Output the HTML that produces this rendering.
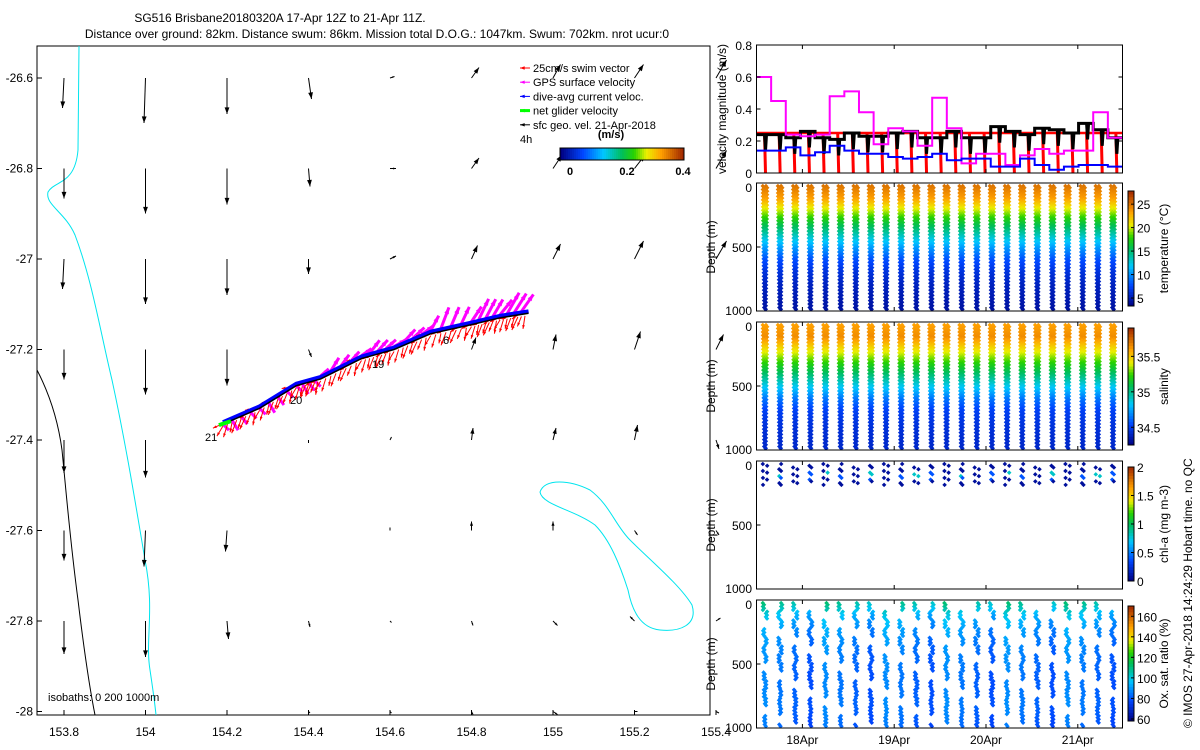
<!DOCTYPE html>
<html><head><meta charset="utf-8"><style>
body{margin:0;background:#fff;}
svg{display:block;font-family:"Liberation Sans",sans-serif;}
</style></head><body>
<svg id="fig" width="1200" height="750" viewBox="0 0 1200 750" xmlns="http://www.w3.org/2000/svg">
<rect width="1200" height="750" fill="#fff"/>
<text x="280" y="22" font-size="12" text-anchor="middle">SG516 Brisbane20180320A 17-Apr 12Z to 21-Apr 11Z.</text>
<text x="377" y="38" font-size="12" text-anchor="middle">Distance over ground: 82km. Distance swum: 86km. Mission total D.O.G.: 1047km. Swum: 702km. nrot ucur:0</text>
<g id="map"></g>
<g id="right"></g>
<text transform="translate(1192,728) rotate(-90)" font-size="12">© IMOS 27-Apr-2018 14:24:29 Hobart time. no QC</text>
</svg>
<script>
// ---------- data ----------
const lonTicks=[153.8,154,154.2,154.4,154.6,154.8,155,155.2,155.4];
const latTicks=[-26.6,-26.8,-27,-27.2,-27.4,-27.6,-27.8,-28];
const geoU=[
[-0.01,-0.01,0,0.02,0.03,0.05,0.05,0.06,0.07],
[0,0,0,0.01,0.04,0.05,0.06,0.07,0.07],
[-0.01,0,0,0,0.04,0.04,0.05,0.06,0.07],
[0,0,0,0.02,0.01,0.03,0.02,0.04,0.05],
[0,0,0,0,0.01,0.01,0.02,0.02,0.02],
[0,-0.01,-0.01,0,0,0,0,0.02,0.02],
[0,0,0.01,0.01,0.01,0.01,0.03,-0.03,0.03],
[0,0,0,0.01,0.01,0.01,0.03,0.02,0.02]];
const geoV=[
[-0.2,-0.3,-0.24,-0.14,0.01,0.07,0.09,0.09,0.12],
[-0.2,-0.3,-0.24,-0.12,0,0.07,0.09,0.09,0.12],
[-0.2,-0.3,-0.24,-0.1,0.02,0.09,0.1,0.12,0.12],
[-0.2,-0.3,-0.24,-0.05,0,0.08,0.1,0.12,0.1],
[-0.22,-0.25,0,-0.02,0.02,0.08,0.08,0.1,-0.06],
[-0.2,-0.24,-0.14,0,0.02,0.06,0.06,-0.03,-0.03],
[-0.22,-0.24,-0.12,-0.04,-0.01,-0.03,-0.03,0.03,0.02],
[0,0,-0.02,-0.01,-0.01,-0.02,-0.02,0,-0.01]];
const trackLon=[154.19,154.28,154.37,154.43,154.53,154.61,154.7,154.8,154.87,154.94];
const trackLat=[-27.365,-27.33,-27.28,-27.265,-27.22,-27.2,-27.165,-27.145,-27.13,-27.12];
const dayLabels=["18Apr","19Apr","20Apr","21Apr"];
const dayVals=[0.5,1.5,2.5,3.5];
const gpsVel=[0.6,0.45,0.24,0.23,0.24,0.48,0.51,0.38,0.18,0.28,0.26,0.17,0.47,0.28,0.06,0.12,0.12,0.05,0.11,0.15,0.12,0.14,0.14,0.38,0.22];
const daVel=[0.14,0.14,0.16,0.11,0.13,0.17,0.14,0.12,0.12,0.10,0.09,0.10,0.12,0.08,0.09,0.09,0.04,0.04,0.09,0.05,0.02,0.04,0.05,0.05,0.04];
const netVel=[0.24,0.24,0.22,0.26,0.22,0.21,0.25,0.23,0.23,0.25,0.26,0.22,0.22,0.26,0.22,0.22,0.29,0.26,0.24,0.28,0.27,0.25,0.31,0.27,0.22];
const swimVel=0.25;
const profDepth=[0,100,200,300,400,500,600,700,800,900,1000];
const profTemp=[25,23.5,20,16.5,13.5,10.5,8,6.5,5.5,5,4.5];
const profSal=[35.6,35.65,35.45,35.25,35.05,34.85,34.65,34.52,34.47,34.44,34.42];
const profOxy=[112,100,95,92,90,89,88,88,89,88,86];
const nDives=24;
// ---------- helpers ----------
const NS="http://www.w3.org/2000/svg";
function el(p,t,a){const e=document.createElementNS(NS,t);for(const k in a)e.setAttribute(k,a[k]);p.appendChild(e);return e;}
function clamp(v){return Math.max(0,Math.min(1,v));}
const cmS=[0,0.18,0.35,0.5,0.6,0.7,0.82,1];
const cmC=[[0,0,128],[0,70,255],[0,200,255],[0,190,90],[40,210,0],[235,240,0],[255,160,0],[160,40,0]];
function jet(t){t=clamp(t);let i=0;while(i<cmS.length-2&&t>cmS[i+1])i++;const f=(t-cmS[i])/(cmS[i+1]-cmS[i]);const c=cmC[i].map((v,j)=>Math.round(v+f*(cmC[i+1][j]-v)));return `rgb(${c[0]},${c[1]},${c[2]})`;}
function interp(xs,ys,x){for(let i=0;i<xs.length-1;i++){if(x<=xs[i+1]){const f=(x-xs[i])/(xs[i+1]-xs[i]);return ys[i]+f*(ys[i+1]-ys[i]);}}return ys[ys.length-1];}
function arrow(g,x1,y1,x2,y2,col,w,hs){el(g,'line',{x1,y1,x2,y2,stroke:col,'stroke-width':w});const a=Math.atan2(y2-y1,x2-x1),L=Math.hypot(x2-x1,y2-y1);if(L<1)return;const h=Math.min(hs,L*0.5);el(g,'polygon',{points:`${x2},${y2} ${x2-h*Math.cos(a-0.35)},${y2-h*Math.sin(a-0.35)} ${x2-h*Math.cos(a+0.35)},${y2-h*Math.sin(a+0.35)}`,fill:col});}
// ---------- map ----------
const map=document.getElementById('map');
const MX=lon=>64+(lon-153.8)*407.5, MY=lat=>78+(-26.6-lat)*452.5;
el(map,'rect',{x:37,y:46,width:673,height:669,fill:'none',stroke:'#000','stroke-width':1});
lonTicks.forEach(v=>{const x=MX(v);el(map,'line',{x1:x,y1:715,x2:x,y2:710,stroke:'#000'});const t=el(map,'text',{x,y:736,'font-size':12,'text-anchor':'middle'});t.textContent=String(v);});
latTicks.forEach(v=>{const y=MY(v);el(map,'line',{x1:37,y1:y,x2:42,y2:y,stroke:'#000'});const t=el(map,'text',{x:33,y:y+4,'font-size':12,'text-anchor':'end'});t.textContent=String(v);});
const coast=el(map,'path',{d:'M37,370 C50,395 58,420 62,450 C66,490 70,540 78,600 C84,650 90,690 95,715',fill:'none',stroke:'#000','stroke-width':1});

const iso=el(map,'path',{d:'M79,46 L78,150 C75,185 55,180 48,192 C45,205 65,212 75,235 C92,280 100,330 112,380 C125,440 135,500 145,560 C155,610 145,640 150,670 C153,690 155,705 156,715',fill:'none',stroke:'#00e5ee','stroke-width':1});

const isl=el(map,'path',{d:'M540,492 C545,478 570,480 590,490 C610,505 615,525 630,540 C650,560 680,585 692,605 C698,625 680,632 660,630 C640,628 632,610 628,590 C620,565 610,540 595,525 C575,510 542,505 540,492Z',fill:'none',stroke:'#00e5ee','stroke-width':1});

const ag=el(map,'g',{});
latTicks.forEach((la,i)=>lonTicks.forEach((lo,j)=>{const x=MX(lo),y=MY(la);arrow(ag,x,y,x+geoU[i][j]*150,y-geoV[i][j]*150,'#000',1,7);}));
const tg=el(map,'g',{});
const tp=trackLon.map((lo,i)=>[MX(lo),MY(trackLat[i])]);
for(let i=0;i<tp.length-1;i++){const [x1,y1]=tp[i],[x2,y2]=tp[i+1];for(let k=0;k<8;k++){const f=k/8,x=x1+(x2-x1)*f,y=y1+(y2-y1)*f;arrow(tg,x,y+2,x-6+((k*7)%5),y+12+((k*3)%6),'#f00',1,4);arrow(tg,x+3,y-2,x-10+((k*5)%7),y+4-((k*2)%5),'#f00',1,4);if(i>2&&k%2==0){arrow(tg,x,y-3,x+8+(i%3)*2,y-10-((k*3)%8)-(i>5?8:0),'#f0f',3,7);}else if(i<=2&&k%2==0){arrow(tg,x,y,x+6,y+6+(k%3)*2,'#f0f',3,5);}}}
el(tg,'polyline',{points:tp.map(p=>p.join(',')).join(' '),fill:'none',stroke:'#00f','stroke-width':4,transform:'translate(0,-2)'});
el(tg,'polyline',{points:tp.map(p=>p.join(',')).join(' '),fill:'none',stroke:'#000','stroke-width':1.5});
el(tg,'line',{x1:tp[0][0]-4,y1:tp[0][1]+1,x2:tp[0][0]+8,y2:tp[0][1]-3,stroke:'#0f0','stroke-width':4});
[["21",205,441],["20",290,404],["19",372,368],["6",443,344]].forEach(a=>{const t=el(map,'text',{x:a[1],y:a[2],'font-size':11});t.textContent=a[0];});
const lg=el(map,'g',{});
[["25cm/s swim vector",'#f00'],["GPS surface velocity",'#f0f'],["dive-avg current veloc.",'#00f'],["net glider velocity",'#0f0'],["sfc geo. vel. 21-Apr-2018",'#000']].forEach((e,i)=>{const y=68+i*14.2;arrow(lg,530,y,520,y,e[1],i==3?3:1,5);const t=el(lg,'text',{x:533,y:y+4,'font-size':11});t.textContent=e[0];});
const t4=el(map,'text',{x:520,y:143,'font-size':11});t4.textContent='4h';
const tu=el(map,'text',{x:611,y:138,'font-size':11,'font-weight':'bold','text-anchor':'middle'});tu.textContent='(m/s)';
for(let i=0;i<62;i++)el(map,'rect',{x:560+i*2,y:148,width:2.2,height:12,fill:jet(i/61)});
el(map,'rect',{x:560,y:148,width:124,height:12,fill:'none',stroke:'#000'});
[["0",570],["0.2",627],["0.4",683]].forEach(a=>{const t=el(map,'text',{x:a[1],y:175,'font-size':11,'font-weight':'bold','text-anchor':'middle'});t.textContent=a[0];});
const it=el(map,'text',{x:48,y:701,'font-size':11});it.textContent='isobaths: 0   200  1000m';
// ---------- right panels ----------
const R=document.getElementById('right');
const L=756.5,RR=1122.5;const TX=d=>L+d*91.8;
function panel(name){const g=el(R,'g',{});return g;}
function frame(g,top,bot){el(g,'rect',{x:L,y:top,width:RR-L,height:bot-top,fill:'none',stroke:'#000'});dayVals.forEach(d=>{el(g,'line',{x1:TX(d),y1:bot,x2:TX(d),y2:bot-4,stroke:'#000'});el(g,'line',{x1:TX(d),y1:top,x2:TX(d),y2:top+4,stroke:'#000'});});}
const vp=panel('velocity-panel');const VY=v=>173-v*160;
const seg=(RR-L)/gpsVel.length;
function steps(arr,col,w){let pts=[];arr.forEach((v,i)=>{pts.push(`${L+i*seg},${VY(v)}`,`${L+(i+1)*seg},${VY(v)}`);});el(vp,'polyline',{points:pts.join(' '),fill:'none',stroke:col,'stroke-width':w});}
el(vp,'line',{x1:L,y1:VY(swimVel),x2:RR,y2:VY(swimVel),stroke:'#f00','stroke-width':2.5});
for(let i=0;i<gpsVel.length;i++){const x=L+i*seg+8;el(vp,'line',{x1:x,y1:VY(swimVel),x2:x+1,y2:VY(0),stroke:'#f00','stroke-width':3});}
let np=[];netVel.forEach((v,i)=>{const x0=L+i*seg;np.push(`${x0},${VY(v)}`,`${x0+8},${VY(v)}`,`${x0+9},${VY(v-0.1)}`,`${x0+10},${VY(v)}`,`${x0+seg},${VY(v)}`);});
el(vp,'polyline',{points:np.join(' '),fill:'none',stroke:'#000','stroke-width':3});
steps(gpsVel,'#f0f',2);steps(daVel,'#00f',2);
frame(vp,45,173);
[0,0.2,0.4,0.6,0.8].forEach(v=>{el(vp,'line',{x1:L,y1:VY(v),x2:L+4,y2:VY(v),stroke:'#000'});el(vp,'line',{x1:RR,y1:VY(v),x2:RR-4,y2:VY(v),stroke:'#000'});const t=el(vp,'text',{x:752,y:VY(v)+5,'font-size':12,'text-anchor':'end'});t.textContent=v===0?'0':String(v);});
const vl=el(vp,'text',{transform:'translate(726,109) rotate(-90)','font-size':12,'text-anchor':'middle'});vl.textContent='velocity magnitude (m/s)';
function depthPanel(name,top,bot,valFn,vmin,vmax,cbTicks,cbLabel,cbTop,cbBot,filter,maxD){
 const g=panel(name);const DY=d=>top+3+d/1000*(bot-top-4);
 for(let k=0;k<nDives;k++){const c=765+k*15.13;for(let d=0;d<=maxD;d+=14){for(const s of [-1,1]){if(filter&&!filter(k,d,s))continue;const x=c+s*(1.6-1.4*d/1000)+((d/14)%2?0.6:-0.6);const v=valFn(d,k,s);el(g,'rect',{x:x-1.6,y:DY(d)-1.6,width:3.2,height:3.2,fill:jet((v-vmin)/(vmax-vmin)),transform:`rotate(45 ${x} ${DY(d)})`});}}}
 frame(g,top,bot);
 [0,500,1000].forEach(d=>{const y=top+d/1000*(bot-top);el(g,'line',{x1:L,y1:y,x2:L+4,y2:y,stroke:'#000'});const t=el(g,'text',{x:752,y:y+(d==0?9:d==1000?4:5),'font-size':12,'text-anchor':'end'});t.textContent=String(d);});
 const dl=el(g,'text',{transform:`translate(715,${(top+bot)/2}) rotate(-90)`,'font-size':12,'text-anchor':'middle'});dl.textContent='Depth (m)';
 const cb=el(g,'g',{});
 const n=40;for(let i=0;i<n;i++)el(cb,'rect',{x:1128,y:cbBot-(i+1)*(cbBot-cbTop)/n,width:6,height:(cbBot-cbTop)/n+0.5,fill:jet((i+0.5)/n)});
 el(cb,'rect',{x:1128,y:cbTop,width:6,height:cbBot-cbTop,fill:'none',stroke:'#000'});
 cbTicks.forEach(v=>{const y=cbBot-(v-vmin)/(vmax-vmin)*(cbBot-cbTop);el(cb,'line',{x1:1134,y1:y,x2:1131,y2:y,stroke:'#000'});const t=el(cb,'text',{x:1137,y:y+5,'font-size':12});t.textContent=String(v);});
 const cl=el(cb,'text',{transform:`translate(1168,${(cbTop+cbBot)/2}) rotate(-90)`,'font-size':12,'text-anchor':'middle'});cl.textContent=cbLabel;
}
depthPanel('temperature-panel',183,311,d=>interp(profDepth,profTemp,d),3.3,27.8,[5,10,15,20,25],'temperature (°C)',191,306,null,1000);
depthPanel('salinity-panel',322,450,d=>interp(profDepth,profSal,d),34.25,35.9,[34.5,35,35.5],'salinity',328,445,null,1000);
depthPanel('chlorophyll-panel',461,589,(d,k)=>(d>60&&d<110&&k%3==1)?0.8:(d>60&&d<130&&k%2)?0.4:0.08,0,2,[0,0.5,1,1.5,2],'chl-a (mg m-3)',467,581,(k,d,s)=>d<=170&&((k*7+d/14*3+(s>0?1:0))%4)==0,170);
depthPanel('oxygen-panel',600,728,(d,k)=>interp(profDepth,profOxy,d)-((k*5)%4)*3,58,170,[60,80,100,120,140,160],'Ox. sat. ratio (%)',606,721,(k,d,s)=>((k*13+Math.floor(d/70)*7+(s>0?3:0))%5)<2,1000);
dayLabels.forEach((lab,i)=>{const t=el(R,'text',{x:TX(dayVals[i]),y:744,'font-size':12,'text-anchor':'middle'});t.textContent=lab;});
</script>
</body></html>
